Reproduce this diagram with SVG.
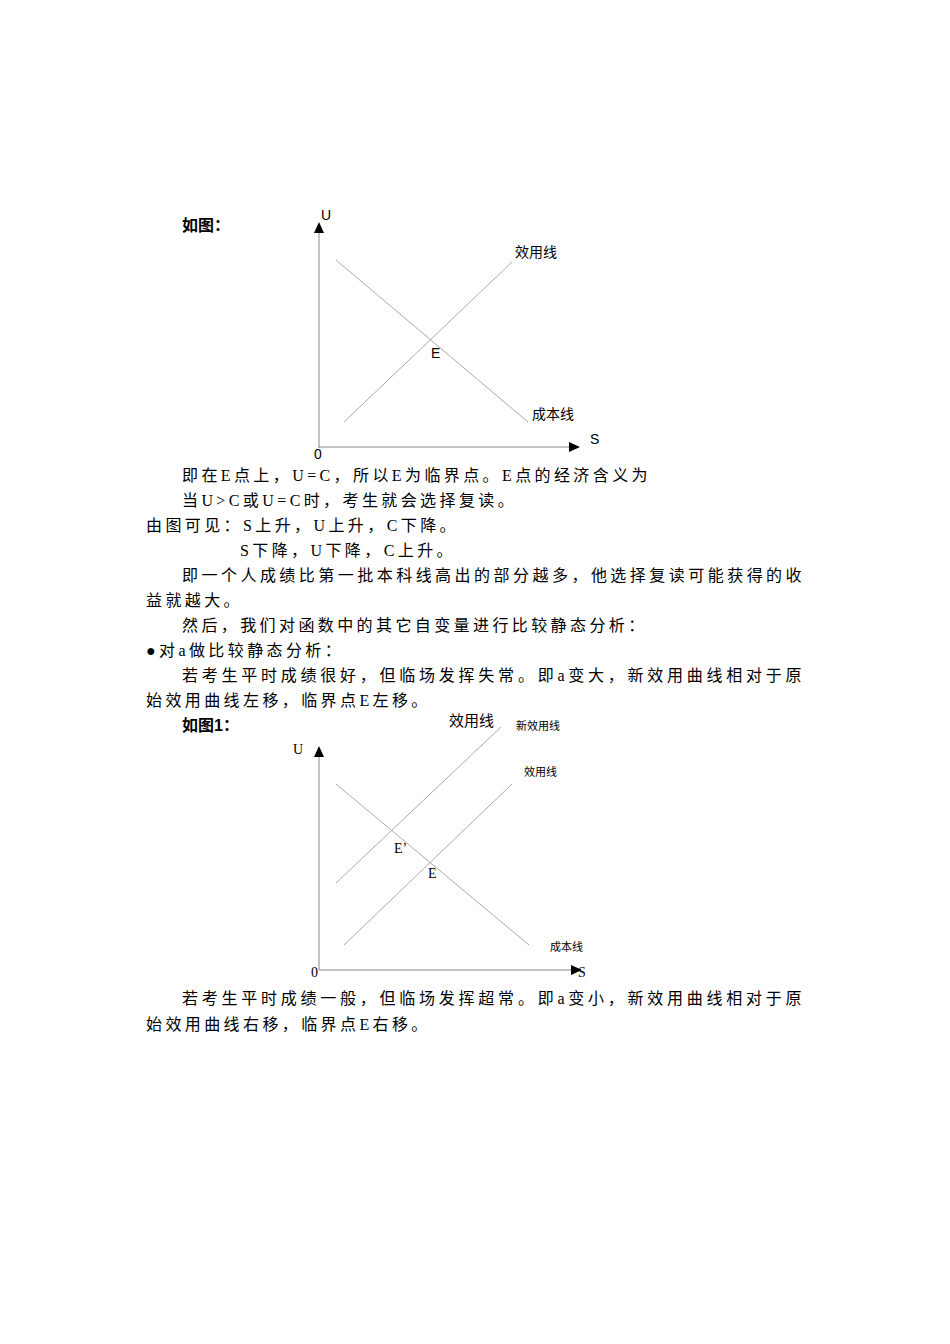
<svg xmlns="http://www.w3.org/2000/svg" width="950" height="1344" viewBox="0 0 950 1344">
<style>
.t{font-family:"Liberation Serif","Noto Sans CJK SC",serif;font-size:16px;fill:#000;letter-spacing:3.4px}
.h{font-family:"Liberation Sans","Noto Sans CJK SC",sans-serif;font-size:16px;font-weight:bold;fill:#000}
.s{font-family:"Liberation Sans","Noto Sans CJK SC",sans-serif;font-size:14px;fill:#000}
.c{font-family:"Liberation Serif","Noto Sans CJK SC",serif;font-size:14px;fill:#000}
.ax{stroke:#888;stroke-width:1;fill:none}
.ln{stroke:#aaa;stroke-width:1;fill:none}
</style>
<rect width="950" height="1344" fill="#fff"/>
<g id="text">
<text class="h" x="182" y="231">如图：</text>
<text class="t" x="182" y="481">即在E点上，U=C，所以E为临界点。E点的经济含义为</text>
<text class="t" x="182" y="506">当U&gt;C或U=C时，考生就会选择复读。</text>
<text class="t" x="146" y="531">由图可见：S上升，U上升，C下降。</text>
<text class="t" x="240" y="556">S下降，U下降，C上升。</text>
<text class="t" x="182" y="581" textLength="623" lengthAdjust="spacing">即一个人成绩比第一批本科线高出的部分越多，他选择复读可能获得的收</text>
<text class="t" x="146" y="606">益就越大。</text>
<text class="t" x="182" y="631">然后，我们对函数中的其它自变量进行比较静态分析：</text>
<text class="t" x="146" y="656">●对a做比较静态分析：</text>
<text class="t" x="182" y="681" textLength="623" lengthAdjust="spacing">若考生平时成绩很好，但临场发挥失常。即a变大，新效用曲线相对于原</text>
<text class="t" x="146" y="706">始效用曲线左移，临界点E左移。</text>
<text class="h" x="182" y="731">如图1：</text>
<text class="t" x="182" y="1004" textLength="623" lengthAdjust="spacing">若考生平时成绩一般，但临场发挥超常。即a变小，新效用曲线相对于原</text>
<text class="t" x="146" y="1030">始效用曲线右移，临界点E右移。</text>
</g>
<g id="chart1">
<line class="ax" x1="319" y1="448" x2="319" y2="232"/>
<polygon points="319,222 314,233 324,233"/>
<line class="ax" x1="319" y1="447" x2="570" y2="447"/>
<polygon points="580,447 569,442 569,452"/>
<line class="ln" x1="336" y1="260" x2="528" y2="422"/>
<line class="ln" x1="344" y1="422" x2="512" y2="262"/>
<text class="s" x="321" y="220">U</text>
<text class="s" x="590" y="444">S</text>
<text class="s" x="314" y="459">0</text>
<text class="s" x="431" y="358">E</text>
<text class="s" x="515" y="257">效用线</text>
<text class="s" x="532" y="419">成本线</text>
</g>
<g id="chart2">
<line class="ax" x1="319" y1="970" x2="319" y2="756"/>
<polygon points="319,746 314,757 324,757"/>
<line class="ax" x1="319" y1="970" x2="572" y2="970"/>
<polygon points="582,970 571,965 571,975"/>
<line class="ln" x1="336" y1="784" x2="529" y2="945"/>
<line class="ln" x1="344" y1="945" x2="512" y2="784"/>
<line class="ln" x1="336" y1="883" x2="501" y2="727"/>
<text class="c" x="293" y="754" fill="#555">U</text>
<text class="c" x="578" y="977">S</text>
<text class="c" x="311" y="977">0</text>
<text class="c" x="394" y="853">E’</text>
<text class="c" x="428" y="878">E</text>
<text class="s" x="449" y="726" style="font-size:15px">效用线</text>
<text class="c" x="516" y="730" fill="#555" style="font-size:11px">新效用线</text>
<text class="s" x="524" y="776" style="font-size:11px">效用线</text>
<text class="s" x="550" y="951" style="font-size:11px">成本线</text>
</g>
</svg>
